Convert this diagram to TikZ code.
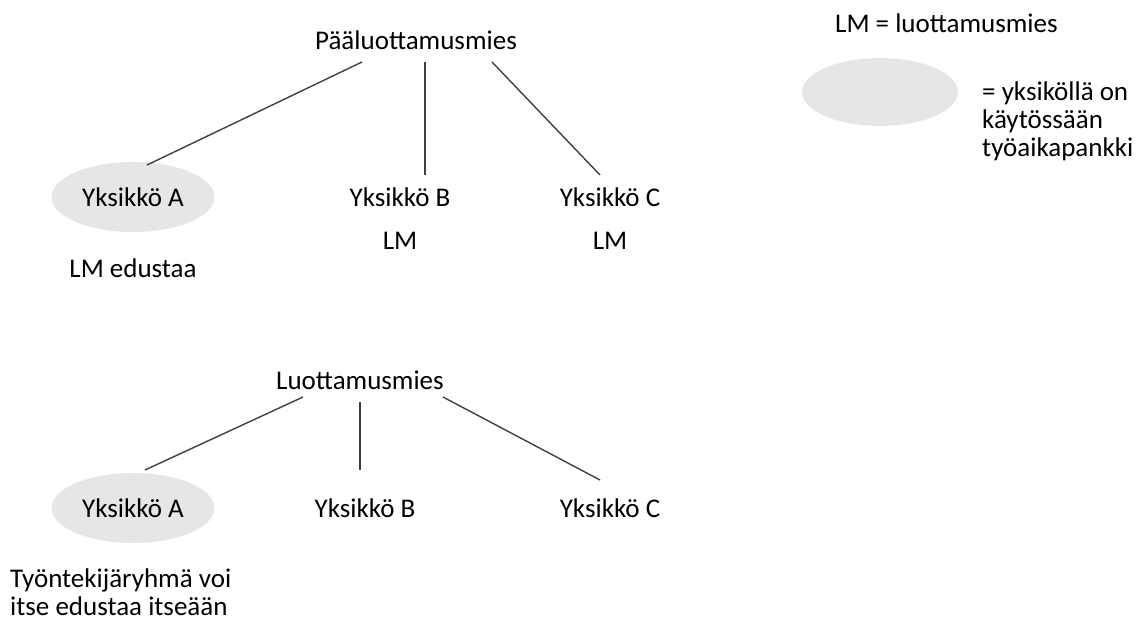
\documentclass[tikz,border=0pt]{standalone}
\usepackage{fontspec}
\setmainfont{Carlito}
\usetikzlibrary{shapes.geometric}
\begin{document}
\begin{tikzpicture}[x=1pt,y=-1pt,
  every node/.style={font=\fontsize{27}{28}\selectfont, text=black, inner sep=0pt},
  unitblob/.style={ellipse, fill=blobgray, minimum width=163pt, minimum height=70pt},
  link/.style={draw=linegray, line width=1.4pt}]
\definecolor{blobgray}{HTML}{E6E6E6}
\definecolor{linegray}{HTML}{404040}
\useasboundingbox (0,0) rectangle (1144,622);
% legend
\node[anchor=west] (lmdef) at (835,23) {LM = luottamusmies};
\node[unitblob, minimum width=156pt, minimum height=68pt] (legblob) at (880,92) {};
\node[anchor=west, align=left] (legtext) at (982,121) {= yksiköllä on\\käytössään\\työaikapankki};
% top tree
\node (top) at (416,40) {Pääluottamusmies};
\node[unitblob] (ta) at (133,197) {Yksikkö A};
\node (tb) at (400,197) {Yksikkö B};
\node (tc) at (610,197) {Yksikkö C};
\node (tblm) at (400,241) {LM};
\node (tclm) at (610,241) {LM};
\node (talm) at (133,268) {LM edustaa};
\coordinate (t1s) at (362,62); \coordinate (t1e) at (147,165);
\coordinate (t2s) at (425,62); \coordinate (t2e) at (425,175);
\coordinate (t3s) at (492,62); \coordinate (t3e) at (600,175);
\draw[link] (t1s) -- (t1e);
\draw[link] (t2s) -- (t2e);
\draw[link] (t3s) -- (t3e);
% bottom tree
\node (bot) at (360,380) {Luottamusmies};
\node[unitblob] (ba) at (133,508) {Yksikkö A};
\node (bb) at (365,508) {Yksikkö B};
\node (bc) at (610,508) {Yksikkö C};
\node[anchor=west, align=left] (banote) at (10,592) {Työntekijäryhmä voi\\itse edustaa itseään};
\coordinate (b1s) at (303,397); \coordinate (b1e) at (145,470);
\coordinate (b2s) at (360,402); \coordinate (b2e) at (360,470);
\coordinate (b3s) at (443,397); \coordinate (b3e) at (600,480);
\draw[link] (b1s) -- (b1e);
\draw[link] (b2s) -- (b2e);
\draw[link] (b3s) -- (b3e);
\end{tikzpicture}
\end{document}
